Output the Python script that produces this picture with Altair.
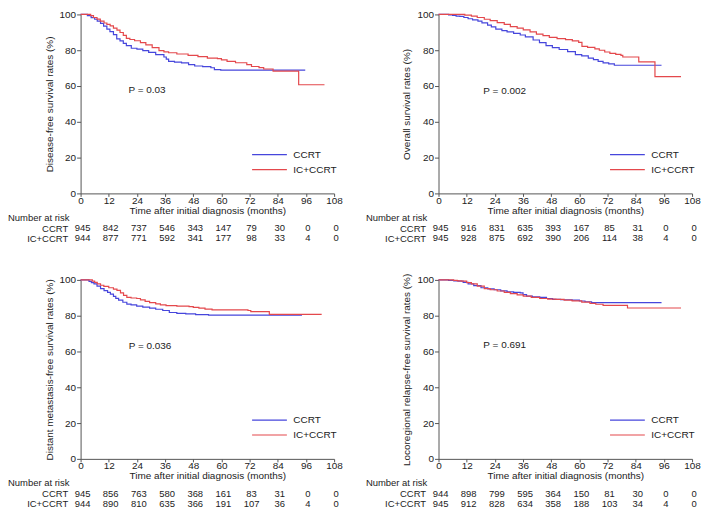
import altair as alt
import pandas as pd

FONT = "Liberation Sans"
GROUPS = ["CCRT", "IC+CCRT"]
COLORS = ["#4646dc", "#e4484c"]
MONTH_TICKS = [0, 12, 24, 36, 48, 60, 72, 84, 96, 108]
PCT_TICKS = [0, 20, 40, 60, 80, 100]

# ---- Disease-free survival ----
DFS_CCRT_T = [0, 2.9, 4.5, 6, 7.1, 8.5, 9.8, 11.2, 12.5, 14, 15.4, 16.8, 18.2, 19.5, 21.6, 24,
              26.5, 29, 32, 35.5, 36.5, 37.5, 40, 43, 46, 48.6, 52, 55.5, 57, 59.7, 95.7]
DFS_CCRT_S = [100, 99.3, 98.2, 97.3, 96.3, 95, 93.5, 91.8, 90.4, 88.7, 86.3, 85.2, 83.8, 82.6, 81.1, 80.6,
              79.8, 78.8, 77.5, 76.2, 75, 73.8, 73.4, 72.9, 72, 71.2, 70.8, 70.2, 69.2, 68.9, 68.9]
DFS_IC_T = [0, 4.3, 5.5, 7, 8.4, 10, 11.2, 12.6, 14, 15.5, 16.8, 18.2, 19.5, 21, 23, 25.5, 27.8,
            30.5, 33.4, 35.5, 37.5, 41, 45.8, 50, 54, 58.3, 60, 62.4, 66, 70.8, 72.8, 76, 78, 82,
            92.9, 103.9]
DFS_IC_S = [100, 99.3, 98.3, 97.4, 96.3, 95.2, 94.4, 93.6, 92.3, 91.2, 89.9, 88.3, 86.6, 86, 85.3, 84.2, 83,
            81.5, 79.8, 79.1, 78.6, 77.9, 77.1, 76.4, 75.6, 75.3, 74.6, 73.8, 73, 72, 70.9, 70.3, 69.5, 68.3,
            60.7, 60.7]
DFS_RISK_CCRT = [945, 842, 737, 546, 343, 147, 79, 30, 0, 0]
DFS_RISK_IC = [944, 877, 771, 592, 341, 177, 98, 33, 4, 0]

# ---- Overall survival ----
OS_CCRT_T = [0, 4.3, 6, 7.5, 9.1, 10.8, 12.6, 14.5, 16.8, 18.5, 20.9, 22.5, 24.4, 27, 29.2, 32, 34.8,
             37, 40.3, 43, 45.8, 48.5, 51.4, 55, 58.3, 61, 63.8, 66, 68, 70.1, 72.5, 74.9, 95]
OS_CCRT_S = [100, 99.7, 99.4, 99.1, 98.9, 98.3, 97.6, 97, 96.3, 95.3, 94, 93, 91.8, 91, 90.3, 89.4, 88.5,
             87.5, 85.7, 84.2, 82.6, 81.5, 80.4, 79.2, 77.5, 76.8, 75.6, 74.8, 73.8, 72.9, 72.4, 71.6, 71.6]
OS_IC_T = [0, 11.2, 14, 16.5, 19.5, 22, 25, 28, 30.6, 33.5, 36.1, 39, 41.7, 44.5, 47.2, 50.5, 54.1,
           57, 59.7, 61.1, 63.5, 66.6, 68.5, 70.8, 73, 75.5, 77.7, 78.5, 85.3, 92.2, 103.3]
OS_IC_S = [100, 99.6, 99.1, 98.3, 97.3, 96.5, 95.4, 94.4, 93.2, 92.4, 91.4, 90.2, 89, 88.2, 87.2, 86.5, 85.9,
           85.2, 84.4, 82.2, 81.6, 80.8, 80, 79, 78.2, 77.7, 77.1, 76.2, 73.5, 65.2, 65.2]
OS_RISK_CCRT = [945, 916, 831, 635, 393, 167, 85, 31, 0, 0]
OS_RISK_IC = [945, 928, 875, 692, 390, 206, 114, 38, 4, 0]

# ---- Distant metastasis-free survival ----
DMFS_CCRT_T = [0, 3.6, 4.6, 5.7, 7, 8.5, 10, 11.5, 12.7, 14, 15, 16.2, 18, 19.7, 21.5, 23.9, 26.5,
               29.4, 32, 35, 37.8, 41, 44.8, 49, 54.5, 94.3]
DMFS_CCRT_S = [100, 99.2, 98.5, 97.8, 96.5, 95.1, 94, 93, 92, 90.8, 89.7, 88.7, 87.5, 86.5, 86, 85.4, 84.8,
               84.2, 83.6, 82.9, 81.8, 81.3, 81, 80.6, 80.3, 80.3]
DMFS_IC_T = [0, 5, 6, 7.1, 8.5, 9.9, 12, 14, 15.5, 17, 18.3, 19.7, 21.5, 23.9, 25.5, 27.5, 29.4, 32,
             34, 36.4, 41, 46.2, 48, 50.4, 53, 56, 71.3, 72.5, 80.4, 102.7]
DMFS_IC_S = [100, 99.3, 98.6, 97.8, 97, 96.4, 95.6, 94.8, 94.2, 92.8, 91.4, 90.2, 89.9, 89.6, 88.8, 88, 87.3, 86.6,
             86, 85.6, 85.3, 85.1, 84.6, 84.2, 83.7, 83.2, 82.9, 82.3, 80.7, 80.7]
DMFS_RISK_CCRT = [945, 856, 763, 580, 368, 161, 83, 31, 0, 0]
DMFS_RISK_IC = [944, 890, 810, 635, 366, 191, 107, 36, 4, 0]

# ---- Locoregional relapse-free survival ----
LRRFS_CCRT_T = [0, 4.3, 6.5, 8.4, 10.5, 12.6, 15, 18.1, 21, 23.7, 26.5, 29.2, 32, 34.8, 36, 37.5, 40,
                43.1, 46, 48.6, 52, 56.9, 60, 62.4, 65.2, 95]
LRRFS_CCRT_S = [100, 99.7, 99.5, 99.3, 98.6, 97.8, 96.8, 95.6, 95, 94.5, 93.9, 93.3, 93, 92.7, 91.8, 90.9, 90.6,
                90.2, 89.6, 89.1, 88.9, 88.7, 88.2, 87.8, 87.3, 87.3]
LRRFS_IC_T = [0, 6.4, 8, 9.8, 12, 14, 16.5, 19.5, 22, 25, 28, 30.6, 33.5, 36.1, 39.5, 43.1, 46.5, 50,
              53.5, 56.9, 61, 64.5, 67, 70.1, 80.5, 103.3]
LRRFS_IC_S = [100, 99.7, 99.5, 99.3, 98.5, 97.8, 96.5, 95.1, 94.5, 93.8, 93, 92.3, 91.6, 90.9, 90.2, 89.6, 89.3, 89.1,
              88.7, 88.3, 87.6, 86.9, 86.4, 85.8, 84.3, 84.3]
LRRFS_RISK_CCRT = [944, 898, 799, 595, 364, 150, 81, 30, 0, 0]
LRRFS_RISK_IC = [945, 912, 828, 634, 358, 188, 103, 34, 4, 0]

Y_TITLES = ["Disease-free survival rates (%)", "Overall survival rates (%)",
            "Distant metastasis-free survival rates (%)", "Locoregional relapse-free survival rates (%)"]
P_LABELS = ["P = 0.03", "P = 0.002", "P = 0.036", "P = 0.691"]
P_MONTH = [20.4, 19.1, 20.5, 19.1]
P_PCT = [57.7, 57.0, 62.8, 63.4]

W = 255
H = 180

x_scale = alt.Scale(domain=[0, 108], nice=False)
y_scale = alt.Scale(domain=[0, 100], nice=False)
x_axis = alt.Axis(values=MONTH_TICKS, title="Time after initial diagnosis (months)",
                  tickSize=3, labelPadding=-1, titlePadding=0, labelFlush=False,
                  labelOverlap=False, labelBound=False)


def y_axis(title):
    return alt.Axis(values=PCT_TICKS, title=title, tickSize=4, labelPadding=1,
                    titlePadding=5, labelOverlap=False, labelBound=False)


def km_panel(ytitle, ct, cs, it, is_, plabel, pm, pp):
    rows = []
    for g, ts, ss in ((GROUPS[0], ct, cs), (GROUPS[1], it, is_)):
        for t, s in zip(ts, ss):
            rows.append({"month": t, "surv": s, "group": g})
    df = pd.DataFrame(rows)
    lines = alt.Chart(df).mark_line(interpolate="step-after", strokeWidth=1.2).encode(
        x=alt.X("month:Q", scale=x_scale, axis=x_axis),
        y=alt.Y("surv:Q", scale=y_scale, axis=y_axis(ytitle)),
        color=alt.Color("group:N", scale=alt.Scale(domain=GROUPS, range=COLORS),
                        legend=alt.Legend(title=None, orient="none", legendX=184, legendY=135,
                                          symbolType="M-3.5,0H3.5", symbolSize=100,
                                          symbolStrokeWidth=1.2, labelFontSize=10,
                                          labelFont=FONT, labelColor="#222", labelOffset=18,
                                          padding=0, rowPadding=4)),
    )
    pdf = pd.DataFrame({"month": [pm], "surv": [pp], "label": [plabel]})
    ptext = alt.Chart(pdf).mark_text(align="left", baseline="middle", fontSize=10).encode(
        x=alt.X("month:Q", scale=x_scale, axis=x_axis),
        y=alt.Y("surv:Q", scale=y_scale, axis=y_axis(ytitle)),
        text="label:N",
    )
    return alt.layer(lines, ptext).properties(width=W, height=H)


def risk_table(rc, ri):
    rows = []
    for g, ns in ((GROUPS[0], rc), (GROUPS[1], ri)):
        for m, n in zip(MONTH_TICKS, ns):
            rows.append({"month": m, "group": g, "n": n})
    df = pd.DataFrame(rows)
    return alt.Chart(df).mark_text(fontSize=9.5, dx=2).encode(
        x=alt.X("month:Q", scale=x_scale, axis=None),
        y=alt.Y("group:N", sort=GROUPS, scale=alt.Scale(padding=0.85, align=0.294),
                axis=alt.Axis(title=None, domain=False, ticks=False, labelPadding=13,
                              labelFontSize=9.5)),
        text="n:Q",
    ).properties(
        width=W, height=27,
        title=alt.TitleParams("Number at risk", anchor="start", frame="group", dx=-73, dy=9,
                              offset=0, baseline="bottom", fontSize=9.5, fontWeight="normal",
                              font=FONT, color="#222"),
    )


km1 = km_panel(Y_TITLES[0], DFS_CCRT_T, DFS_CCRT_S, DFS_IC_T, DFS_IC_S, P_LABELS[0], P_MONTH[0], P_PCT[0])
km2 = km_panel(Y_TITLES[1], OS_CCRT_T, OS_CCRT_S, OS_IC_T, OS_IC_S, P_LABELS[1], P_MONTH[1], P_PCT[1])
km3 = km_panel(Y_TITLES[2], DMFS_CCRT_T, DMFS_CCRT_S, DMFS_IC_T, DMFS_IC_S, P_LABELS[2], P_MONTH[2], P_PCT[2])
km4 = km_panel(Y_TITLES[3], LRRFS_CCRT_T, LRRFS_CCRT_S, LRRFS_IC_T, LRRFS_IC_S, P_LABELS[3], P_MONTH[3], P_PCT[3])

t1 = risk_table(DFS_RISK_CCRT, DFS_RISK_IC)
t2 = risk_table(OS_RISK_CCRT, OS_RISK_IC)
t3 = risk_table(DMFS_RISK_CCRT, DMFS_RISK_IC)
t4 = risk_table(LRRFS_RISK_CCRT, LRRFS_RISK_IC)

chart = alt.concat(
    km1, km2, t1, t2, km3, km4, t3, t4,
    columns=2, spacing={"row": 30, "column": 105}, bounds="flush",
).resolve_scale(color="independent").properties(padding=0).configure_view(
    stroke=None
).configure_axis(
    labelFont=FONT, titleFont=FONT, labelFontSize=10, titleFontSize=10, titleFontWeight="normal",
    grid=False, domainColor="#555", tickColor="#555", labelColor="#222", titleColor="#222",
    labelOverlap=False,
).configure_text(font=FONT, color="#222")

chart.save("out.html", embed_options={"renderer": "svg", "actions": False})
